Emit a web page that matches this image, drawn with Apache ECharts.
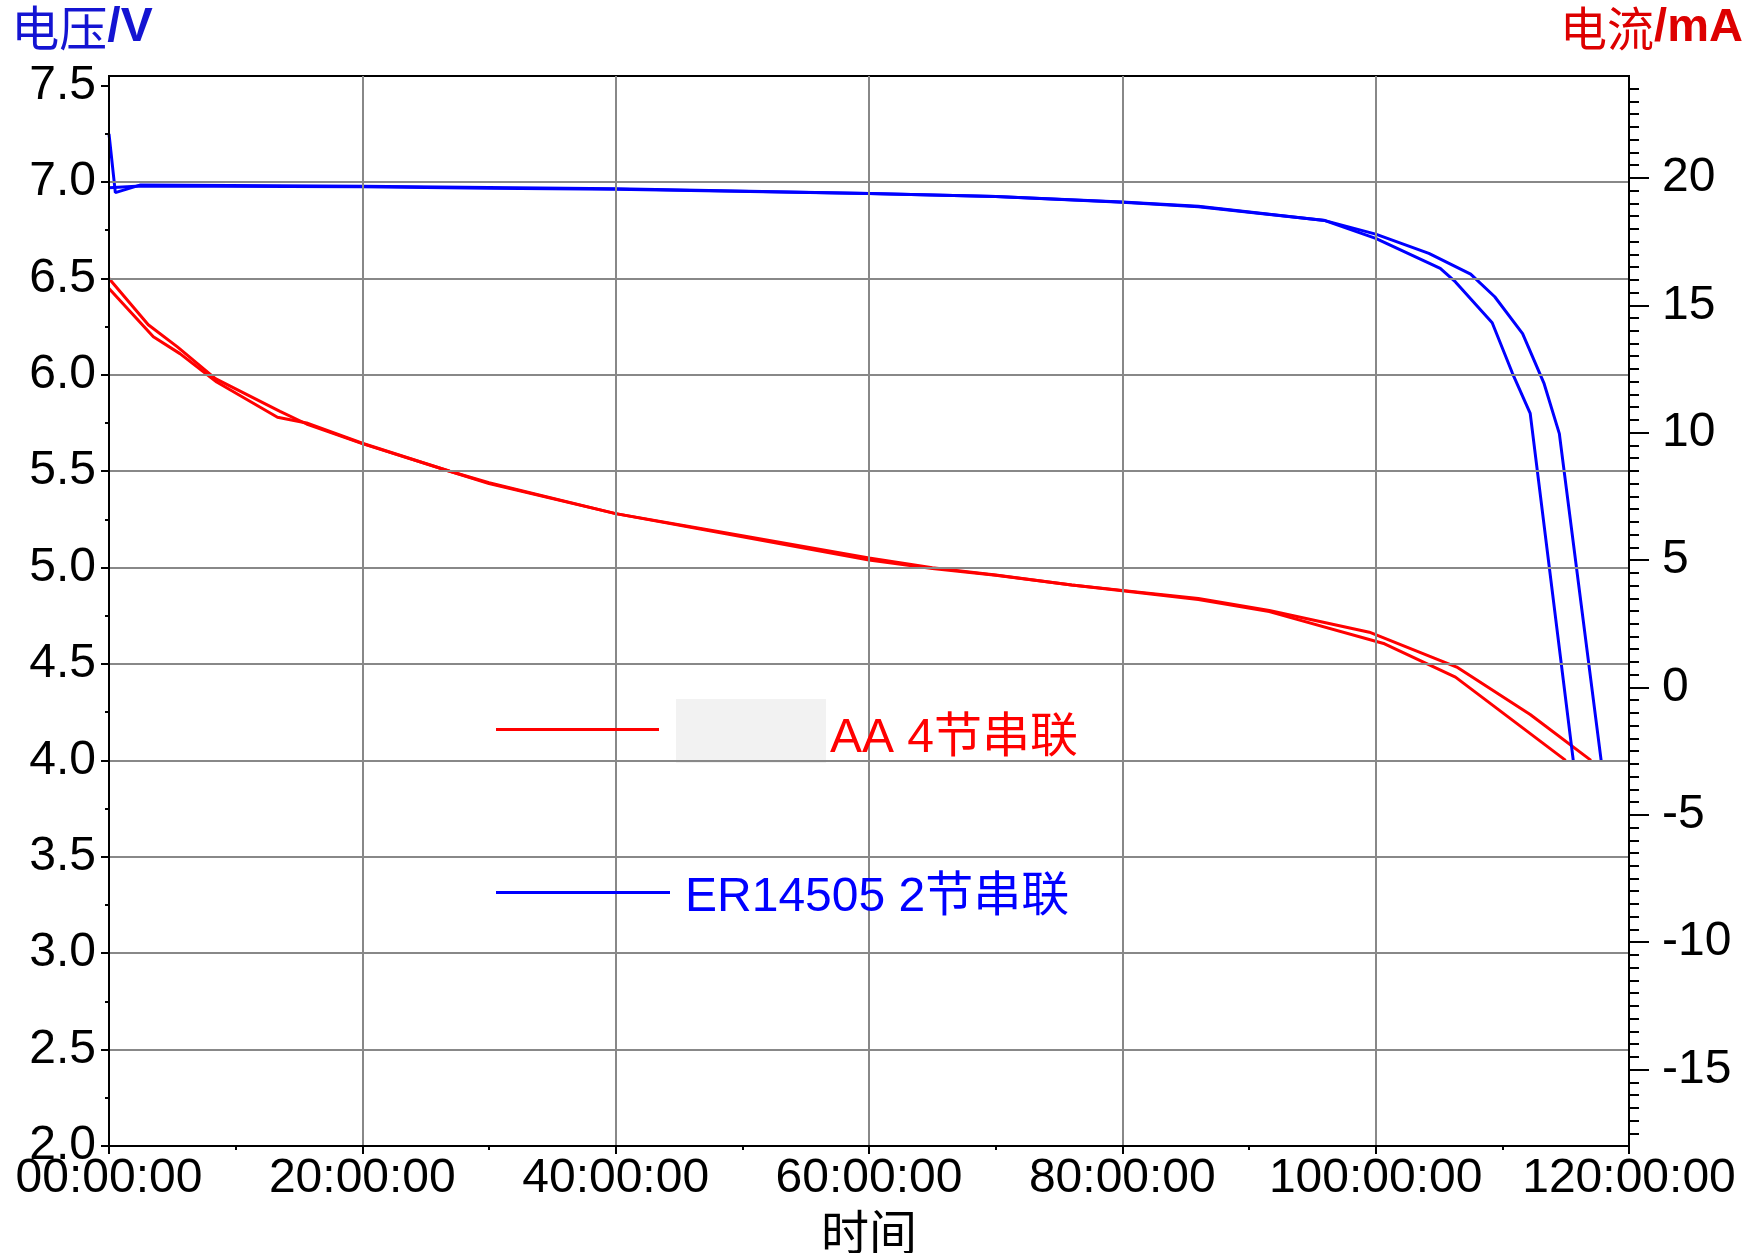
<!DOCTYPE html>
<html><head><meta charset="utf-8">
<script src="https://cdn.jsdelivr.net/npm/echarts@6/dist/echarts.min.js"></script>
<style>html,body{margin:0;padding:0;background:#fff}#c{width:1756px;height:1253px}</style>
</head><body><div id="c"></div>
<script>
// ---- data (hours, volts) ----
const redAHours = [0, 3.1, 5.4, 8.4, 13.5, 15.6, 20, 26.9, 30, 40, 50, 60, 65, 70, 76, 80, 86, 91.6, 99.5, 106.4, 112.2, 117.0];
const redAVolts = [6.50, 6.26, 6.145, 5.98, 5.81, 5.745, 5.643, 5.50, 5.436, 5.28, 5.16, 5.04, 4.995, 4.96, 4.91, 4.882, 4.84, 4.778, 4.665, 4.484, 4.238, 4.0];
const redBHours = [0, 3.5, 5.6, 8.5, 13.3, 15.6, 20, 26.9, 30, 40, 50, 60, 65, 70, 76, 80, 86, 91.6, 100.7, 106.3, 115.0];
const redBVolts = [6.448, 6.197, 6.11, 5.963, 5.78, 5.75, 5.645, 5.50, 5.44, 5.28, 5.165, 5.05, 5.0, 4.962, 4.91, 4.88, 4.835, 4.772, 4.605, 4.432, 4.0];
const blueAHours = [0, 0.5, 2.5, 20, 40, 60, 70, 80, 86, 96, 100, 105.1, 106.3, 109.2, 110.8, 112.2, 115.6];
const blueAVolts = [7.25, 6.945, 6.985, 6.978, 6.965, 6.94, 6.925, 6.895, 6.872, 6.80, 6.708, 6.552, 6.482, 6.27, 6.008, 5.80, 4.0];
const blueBHours = [0, 2.5, 20, 30, 40, 60, 70, 80, 86, 96, 100, 104.2, 107.5, 109.4, 111.6, 113.3, 114.5, 117.8];
const blueBVolts = [6.97, 6.98, 6.975, 6.968, 6.962, 6.94, 6.925, 6.897, 6.875, 6.80, 6.73, 6.63, 6.522, 6.405, 6.214, 5.954, 5.695, 4.0];

const redName = 'AA 4节串联';
const blueName = 'ER14505 2节串联';
const voltTicks = [2.0, 2.5, 3.0, 3.5, 4.0, 4.5, 5.0, 5.5, 6.0, 6.5, 7.0, 7.5];
const voltMinorTicks = [2.25, 2.75, 3.25, 3.75, 4.25, 4.75, 5.25, 5.75, 6.25, 6.75, 7.25];
const currentTicks = [-15, -10, -5, 0, 5, 10, 15, 20];
const currentMinorTicks = [];
for (let v = -17.5; v <= 23.5; v += 0.5) { if (v % 5 !== 0) currentMinorTicks.push(v); }

const zip = (h, v) => h.map((x, i) => [x, v[i]]);
const LAT = 'Liberation Sans, Arial, sans-serif';
const CJK = '"Noto Sans CJK SC", sans-serif';
const MIX = 'Liberation Sans, "Noto Sans CJK SC", sans-serif';

const chart = echarts.init(document.getElementById('c'), null, {renderer: 'canvas'});
chart.setOption({
  animation: false,
  backgroundColor: '#fff',
  grid: {left: 109, right: 127, top: 76, bottom: 107, show: true, borderColor: '#000', borderWidth: 2,
         backgroundColor: '#fff', containLabel: false, outerBoundsMode: 'none'},
  graphic: [
    {type: 'rect', z: 3, shape: {x: 661, y: 700, width: 445, height: 75}, style: {fill: '#fff'}},
    {type: 'rect', z: 3, shape: {x: 676, y: 699, width: 150, height: 64}, style: {fill: '#f2f2f2'}},
    {type: 'rect', z: 3, shape: {x: 662, y: 858, width: 434, height: 75}, style: {fill: '#fff'}}
  ],
  legend: [
    {data: [redName], left: 496, top: 696.5, padding: 0, z: 6, selectedMode: false,
     icon: 'rect', itemWidth: 163, itemHeight: 3,
     formatter: n => '{t|' + n + '}',
     textStyle: {rich: {t: {color: '#ff0000', fontSize: 48, lineHeight: 48, fontFamily: MIX,
                            verticalAlign: 'middle', padding: [18, 0, 0, 166]}}}},
    {data: [blueName], left: 496, top: 863, padding: 0, z: 6, selectedMode: false,
     icon: 'rect', itemWidth: 174, itemHeight: 3,
     formatter: n => '{t|' + n + '}',
     textStyle: {rich: {t: {color: '#0000ff', fontSize: 48, lineHeight: 48, fontFamily: MIX,
                            verticalAlign: 'middle', padding: [11, 0, 0, 10]}}}}
  ],
  xAxis: {
    type: 'value', min: 0, max: 120, interval: 20, z: 5,
    name: '时间', nameLocation: 'middle', nameGap: 62,
    nameTextStyle: {fontSize: 48, fontFamily: CJK, color: '#000'},
    axisLine: {show: true, onZero: false, lineStyle: {color: '#000', width: 2}},
    axisTick: {show: true, length: 8, lineStyle: {color: '#000', width: 2}},
    minorTick: {show: true, splitNumber: 2, length: 4, lineStyle: {color: '#000', width: 2}},
    axisLabel: {fontSize: 48, fontFamily: LAT, color: '#000', margin: 9,
      formatter: v => String(v).padStart(2, '0') + ':00:00'},
    splitLine: {show: true, showMinLine: false, showMaxLine: false, lineStyle: {color: '#888', width: 2}}
  },
  yAxis: [
    {type: 'value', min: 2, max: 7.55, position: 'left', z: 5,
     name: '{a|电压}{b|/V}', nameLocation: 'end', nameGap: 24,
     nameTextStyle: {align: 'center', verticalAlign: 'bottom', padding: [0, 54, 0, 0],
       rich: {a: {fontSize: 48, fontFamily: CJK, color: '#1414d2'},
              b: {fontSize: 48, fontFamily: LAT, fontWeight: 'bold', color: '#1414d2'}}},
     axisLine: {show: true, lineStyle: {color: '#000', width: 2}},
     axisTick: {show: true, length: 8, customValues: voltTicks, lineStyle: {color: '#000', width: 2}},
     axisLabel: {customValues: voltTicks, fontSize: 48, fontFamily: LAT, color: '#000', margin: 13,
       formatter: v => v.toFixed(1)},
     splitLine: {show: true, showMinLine: false, showMaxLine: false, lineStyle: {color: '#888', width: 2}}},
    {type: 'value', min: -18, max: 24, position: 'right', z: 5,
     name: '{a|电流}{b|/mA}', nameLocation: 'end', nameGap: 24,
     nameTextStyle: {align: 'center', verticalAlign: 'bottom', padding: [0, 0, 0, 45],
       rich: {a: {fontSize: 47, fontFamily: CJK, color: '#dd0000'},
              b: {fontSize: 47, fontFamily: LAT, fontWeight: 'bold', color: '#dd0000'}}},
     axisLine: {show: true, lineStyle: {color: '#000', width: 2}},
     axisTick: {show: true, length: 20, customValues: currentTicks, lineStyle: {color: '#000', width: 2}},
     axisLabel: {customValues: currentTicks, fontSize: 48, fontFamily: LAT, color: '#000', margin: 33},
     splitLine: {show: false}},
    {type: 'value', min: -18, max: 24, position: 'right', z: 5,
     axisLine: {show: false},
     axisTick: {show: true, length: 10, customValues: currentMinorTicks, lineStyle: {color: '#000', width: 2}},
     axisLabel: {show: false}, splitLine: {show: false}},
    {type: 'value', min: 2, max: 7.55, position: 'left', z: 5,
     axisLine: {show: false},
     axisTick: {show: true, length: 4, customValues: voltMinorTicks, lineStyle: {color: '#000', width: 2}},
     axisLabel: {show: false}, splitLine: {show: false}}
  ],
  series: [
    {name: redName, type: 'line', yAxisIndex: 0, data: zip(redAHours, redAVolts), symbol: 'none', color: '#ff0000', lineStyle: {width: 3, color: '#ff0000'}, z: 2},
    {name: redName, type: 'line', yAxisIndex: 0, data: zip(redBHours, redBVolts), symbol: 'none', color: '#ff0000', lineStyle: {width: 3, color: '#ff0000'}, z: 2},
    {name: blueName, type: 'line', yAxisIndex: 0, data: zip(blueAHours, blueAVolts), symbol: 'none', color: '#0000ff', lineStyle: {width: 3, color: '#0000ff'}, z: 2},
    {name: blueName, type: 'line', yAxisIndex: 0, data: zip(blueBHours, blueBVolts), symbol: 'none', color: '#0000ff', lineStyle: {width: 3, color: '#0000ff'}, z: 2}
  ]
});
</script></body></html>
